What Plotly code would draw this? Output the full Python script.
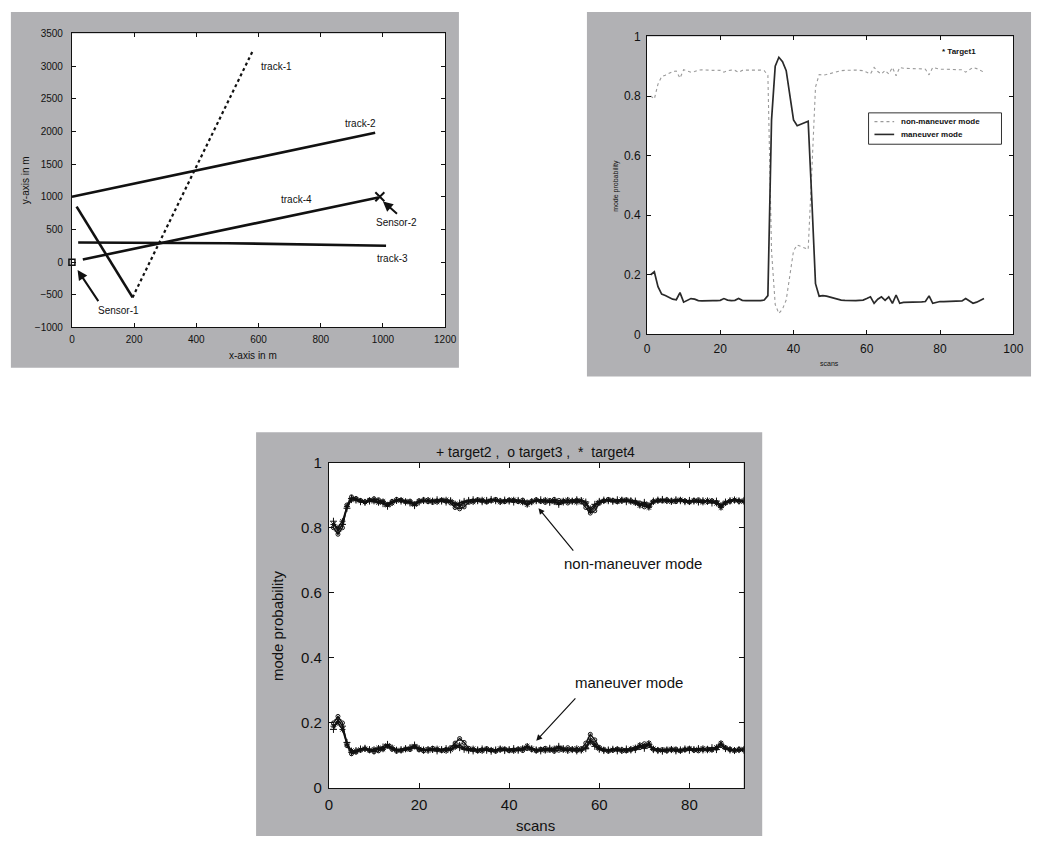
import plotly.graph_objects as go

W, H = 1045, 844
FONT = "Liberation Sans, Arial, sans-serif"

# ---------------- data: top-left (tracks) ----------------
track1_desc_x = [15, 195]
track1_desc_y = [850, -540]
track1_asc_x = [195, 580]
track1_asc_y = [-540, 3220]
track2_x = [0, 975]
track2_y = [1000, 1980]
track3_x = [20, 500, 1010]
track3_y = [300, 290, 250]
track4_x = [35, 985]
track4_y = [40, 990]
sensor1_xy = (0, 0)
sensor2_xy = (990, 1000)
tl_xticks = [0, 200, 400, 600, 800, 1000, 1200]
tl_yticks = [-1000, -500, 0, 500, 1000, 1500, 2000, 2500, 3000, 3500]

# ---------------- data: top-right (target 1) ----------------
scans = list(range(1, 93))
t1_man = [0.20, 0.21, 0.16, 0.135, 0.13, 0.125, 0.118, 0.116, 0.14, 0.108,
          0.115, 0.12, 0.118, 0.113, 0.112, 0.113, 0.113, 0.113, 0.113, 0.114,
          0.12, 0.115, 0.113, 0.114, 0.12, 0.114, 0.113, 0.113, 0.112, 0.113,
          0.113, 0.115, 0.13, 0.72, 0.90, 0.93, 0.915, 0.885, 0.80, 0.72,
          0.70, 0.705, 0.71, 0.715, 0.45, 0.17, 0.128, 0.13, 0.128, 0.125,
          0.12, 0.118, 0.115, 0.114, 0.113, 0.113, 0.113, 0.114, 0.115, 0.12,
          0.126, 0.104, 0.118, 0.126, 0.114, 0.126, 0.104, 0.132, 0.104, 0.107,
          0.107, 0.107, 0.108, 0.108, 0.109, 0.11, 0.129, 0.104, 0.108, 0.11,
          0.11, 0.11, 0.11, 0.11, 0.11, 0.112, 0.12, 0.112, 0.104, 0.108,
          0.115, 0.12]
t1_nonman = [0.80, 0.79, 0.84, 0.865, 0.87, 0.875, 0.882, 0.884, 0.86, 0.888,
             0.885, 0.88, 0.882, 0.887, 0.888, 0.887, 0.887, 0.886, 0.887, 0.886,
             0.88, 0.885, 0.887, 0.886, 0.88, 0.886, 0.887, 0.887, 0.888, 0.887,
             0.887, 0.885, 0.87, 0.28, 0.10, 0.07, 0.085, 0.115, 0.20, 0.28,
             0.30, 0.295, 0.29, 0.285, 0.55, 0.83, 0.872, 0.87, 0.872, 0.875,
             0.88, 0.882, 0.885, 0.886, 0.887, 0.887, 0.887, 0.886, 0.885, 0.88,
             0.874, 0.896, 0.882, 0.874, 0.886, 0.874, 0.896, 0.868, 0.896, 0.893,
             0.893, 0.893, 0.892, 0.892, 0.891, 0.89, 0.871, 0.896, 0.892, 0.89,
             0.89, 0.89, 0.89, 0.89, 0.89, 0.888, 0.88, 0.888, 0.896, 0.892,
             0.885, 0.88]

# ---------------- data: bottom (targets 2,3,4) ----------------
t2_nonman = [0.82, 0.79, 0.81, 0.86, 0.89, 0.885, 0.88, 0.878, 0.882, 0.886,
             0.88, 0.874, 0.866, 0.878, 0.884, 0.882, 0.879, 0.876, 0.868, 0.879,
             0.884, 0.883, 0.881, 0.886, 0.882, 0.879, 0.883, 0.87, 0.876, 0.881,
             0.884, 0.886, 0.883, 0.88, 0.884, 0.887, 0.883, 0.881, 0.885, 0.882,
             0.879, 0.884, 0.881, 0.874, 0.88, 0.883, 0.886, 0.882, 0.878, 0.884,
             0.872, 0.879, 0.884, 0.882, 0.886, 0.883, 0.879, 0.858, 0.872, 0.881,
             0.885, 0.883, 0.881, 0.886, 0.884, 0.88, 0.883, 0.882, 0.872, 0.878,
             0.866, 0.882, 0.885, 0.887, 0.884, 0.882, 0.886, 0.883, 0.88, 0.884,
             0.882, 0.879, 0.883, 0.881, 0.876, 0.882, 0.866, 0.879, 0.883, 0.885,
             0.882, 0.884]
t2_man = [0.18, 0.21, 0.19, 0.14, 0.11, 0.115, 0.12, 0.122, 0.118, 0.114,
          0.12, 0.126, 0.134, 0.122, 0.116, 0.118, 0.121, 0.124, 0.132, 0.121,
          0.116, 0.117, 0.119, 0.114, 0.118, 0.121, 0.117, 0.13, 0.124, 0.119,
          0.116, 0.114, 0.117, 0.12, 0.116, 0.113, 0.117, 0.119, 0.115, 0.118,
          0.121, 0.116, 0.119, 0.126, 0.12, 0.117, 0.114, 0.118, 0.122, 0.116,
          0.128, 0.121, 0.116, 0.118, 0.114, 0.117, 0.121, 0.142, 0.128, 0.119,
          0.115, 0.117, 0.119, 0.114, 0.116, 0.12, 0.117, 0.118, 0.128, 0.122,
          0.134, 0.118, 0.115, 0.113, 0.116, 0.118, 0.114, 0.117, 0.12, 0.116,
          0.118, 0.121, 0.117, 0.119, 0.124, 0.118, 0.134, 0.121, 0.117, 0.115,
          0.118, 0.116]
t3_nonman = [0.80, 0.78, 0.80, 0.87, 0.895, 0.89, 0.884, 0.88, 0.885, 0.889,
             0.886, 0.88, 0.872, 0.881, 0.887, 0.884, 0.88, 0.882, 0.874, 0.883,
             0.886, 0.88, 0.878, 0.883, 0.885, 0.881, 0.876, 0.862, 0.858, 0.864,
             0.878, 0.883, 0.886, 0.882, 0.879, 0.884, 0.887, 0.883, 0.88, 0.885,
             0.883, 0.88, 0.885, 0.879, 0.882, 0.886, 0.881, 0.878, 0.884, 0.887,
             0.884, 0.88, 0.876, 0.882, 0.885, 0.879, 0.862, 0.845, 0.852, 0.875,
             0.883, 0.887, 0.884, 0.88, 0.882, 0.886, 0.883, 0.879, 0.876, 0.864,
             0.87, 0.881, 0.884, 0.882, 0.886, 0.883, 0.88, 0.885, 0.882, 0.879,
             0.884, 0.886, 0.882, 0.88, 0.883, 0.878, 0.87, 0.876, 0.882, 0.884,
             0.881, 0.883]
t3_man = [0.20, 0.22, 0.20, 0.13, 0.105, 0.11, 0.116, 0.12, 0.115, 0.111,
          0.114, 0.12, 0.128, 0.119, 0.113, 0.116, 0.12, 0.118, 0.126, 0.117,
          0.114, 0.12, 0.122, 0.117, 0.115, 0.119, 0.124, 0.138, 0.152, 0.14,
          0.122, 0.117, 0.114, 0.118, 0.121, 0.116, 0.113, 0.117, 0.12, 0.115,
          0.117, 0.12, 0.115, 0.121, 0.118, 0.114, 0.119, 0.122, 0.116, 0.113,
          0.116, 0.12, 0.124, 0.118, 0.115, 0.121, 0.138, 0.165, 0.148, 0.125,
          0.117, 0.113, 0.116, 0.12, 0.118, 0.114, 0.117, 0.121, 0.124, 0.136,
          0.13, 0.119, 0.116, 0.118, 0.114, 0.117, 0.12, 0.115, 0.118, 0.121,
          0.116, 0.114, 0.118, 0.12, 0.117, 0.122, 0.13, 0.124, 0.118, 0.116,
          0.119, 0.117]
t4_nonman = [0.81, 0.80, 0.82, 0.865, 0.885, 0.887, 0.882, 0.879, 0.884, 0.881,
             0.877, 0.881, 0.869, 0.876, 0.883, 0.885, 0.881, 0.878, 0.871, 0.88,
             0.882, 0.885, 0.883, 0.879, 0.884, 0.886, 0.882, 0.874, 0.868, 0.877,
             0.882, 0.879, 0.884, 0.886, 0.881, 0.883, 0.885, 0.879, 0.882, 0.884,
             0.886, 0.882, 0.878, 0.871, 0.879, 0.884, 0.882, 0.885, 0.881, 0.879,
             0.876, 0.883, 0.885, 0.881, 0.878, 0.884, 0.875, 0.852, 0.866, 0.879,
             0.882, 0.885, 0.883, 0.881, 0.886, 0.884, 0.88, 0.876, 0.868, 0.874,
             0.862, 0.879, 0.883, 0.885, 0.882, 0.88, 0.884, 0.886, 0.882, 0.879,
             0.883, 0.881, 0.878, 0.884, 0.882, 0.875, 0.862, 0.877, 0.881, 0.886,
             0.883, 0.88]
t4_man = [0.19, 0.20, 0.18, 0.135, 0.115, 0.113, 0.118, 0.121, 0.116, 0.119,
          0.123, 0.119, 0.131, 0.124, 0.117, 0.115, 0.119, 0.122, 0.129, 0.12,
          0.118, 0.115, 0.117, 0.121, 0.116, 0.114, 0.118, 0.126, 0.132, 0.123,
          0.118, 0.121, 0.116, 0.114, 0.119, 0.117, 0.115, 0.121, 0.118, 0.116,
          0.114, 0.118, 0.122, 0.129, 0.121, 0.116, 0.118, 0.115, 0.119, 0.121,
          0.124, 0.117, 0.115, 0.119, 0.122, 0.116, 0.125, 0.148, 0.134, 0.121,
          0.118, 0.115, 0.117, 0.119, 0.114, 0.116, 0.12, 0.124, 0.132, 0.126,
          0.138, 0.121, 0.117, 0.115, 0.118, 0.12, 0.116, 0.114, 0.118, 0.121,
          0.117, 0.119, 0.122, 0.116, 0.118, 0.125, 0.138, 0.123, 0.119, 0.114,
          0.117, 0.12]
prob_ticks = [0, 0.2, 0.4, 0.6, 0.8, 1]
tr_xticks = [0, 20, 40, 60, 80, 100]
bt_xticks = [0, 20, 40, 60, 80]
legend_labels = ["non-maneuver mode", "maneuver mode"]

# ---------------- layout helpers ----------------
def px(x):
    return x / W

def py(y):
    return 1 - y / H

GRAY = "#b1b1b4"
BLACK = "#111111"
NONMAN_COLOR = "#9a9a9a"
MAN_COLOR = "#2a2a2a"

fig = go.Figure()

# --- top-left traces
fig.add_trace(go.Scatter(x=track1_desc_x, y=track1_desc_y, mode="lines",
                         line=dict(color=BLACK, width=2.6), showlegend=False,
                         xaxis="x", yaxis="y"))
fig.add_trace(go.Scatter(x=track1_asc_x, y=track1_asc_y, mode="lines",
                         line=dict(color=BLACK, width=2.2, dash="dot"), showlegend=False,
                         xaxis="x", yaxis="y"))
fig.add_trace(go.Scatter(x=track2_x, y=track2_y, mode="lines",
                         line=dict(color=BLACK, width=2.6), showlegend=False,
                         xaxis="x", yaxis="y"))
fig.add_trace(go.Scatter(x=track3_x, y=track3_y, mode="lines",
                         line=dict(color=BLACK, width=2.6), showlegend=False,
                         xaxis="x", yaxis="y"))
fig.add_trace(go.Scatter(x=track4_x, y=track4_y, mode="lines",
                         line=dict(color=BLACK, width=2.6), showlegend=False,
                         xaxis="x", yaxis="y"))
fig.add_trace(go.Scatter(x=[sensor1_xy[0]], y=[sensor1_xy[1]], mode="markers",
                         marker=dict(symbol="square-open", size=6, color=BLACK, line=dict(width=1.5)),
                         showlegend=False, cliponaxis=False, xaxis="x", yaxis="y"))
fig.add_trace(go.Scatter(x=[sensor2_xy[0]], y=[sensor2_xy[1]], mode="markers",
                         marker=dict(symbol="x-thin-open", size=9, color=BLACK, line=dict(width=2, color=BLACK)),
                         showlegend=False, xaxis="x", yaxis="y"))

# --- top-right traces
fig.add_trace(go.Scatter(x=scans, y=t1_nonman, mode="lines", name=legend_labels[0],
                         line=dict(color=NONMAN_COLOR, width=1.1, dash="dot"),
                         showlegend=False, xaxis="x2", yaxis="y2"))
fig.add_trace(go.Scatter(x=scans, y=t1_man, mode="lines", name=legend_labels[1],
                         line=dict(color=MAN_COLOR, width=1.7),
                         showlegend=False, xaxis="x2", yaxis="y2"))

# --- bottom traces
for ys, sym, sz in [(t2_nonman, "cross-thin-open", 5), (t3_nonman, "circle-open", 4),
                    (t4_nonman, "asterisk-open", 5), (t2_man, "cross-thin-open", 5),
                    (t3_man, "circle-open", 4), (t4_man, "asterisk-open", 5)]:
    fig.add_trace(go.Scatter(x=scans, y=ys, mode="lines+markers",
                             line=dict(color=BLACK, width=1.4),
                             marker=dict(symbol=sym, size=sz, color=BLACK, line=dict(width=1, color=BLACK)),
                             showlegend=False, xaxis="x3", yaxis="y3"))

# ---------------- axes ----------------
def axis(domain, rng, tickvals, size, anchor, ticklen=4, standoff=3):
    return dict(domain=domain, range=rng, tickvals=tickvals, anchor=anchor,
                showgrid=False, zeroline=False, showline=True, linecolor=BLACK,
                linewidth=1, mirror="ticks", ticks="inside", ticklen=ticklen,
                tickcolor=BLACK, ticklabelstandoff=standoff,
                tickfont=dict(family=FONT, size=size, color=BLACK))

fig.update_layout(
    width=W, height=H,
    margin=dict(l=0, r=0, t=0, b=0),
    paper_bgcolor="white", plot_bgcolor="white",
    font=dict(family=FONT, color=BLACK),
    showlegend=False,
    xaxis=axis([px(69), px(448)], [0, 1200], tl_xticks, 10, "y"),
    yaxis=axis([py(325), py(25)], [-1000, 3500], tl_yticks, 10, "x", 4, 6),
    xaxis2=axis([px(653), px(1025)], [0, 100], tr_xticks, 12, "y2"),
    yaxis2=axis([py(332), py(28)], [0, 1], prob_ticks, 12, "x2"),
    xaxis3=axis([px(330), px(751)], [0, 92], bt_xticks, 15, "y3", 5),
    yaxis3=axis([py(795), py(463)], [0, 1], prob_ticks, 15, "x3", 5),
)

# panel backgrounds
shapes = []
for (x0, y0, x1, y1) in [(7, 3, 462, 366), (592, 3, 1043, 375), (256, 432, 770, 844)]:
    shapes.append(dict(type="rect", xref="paper", yref="paper", x0=px(x0), x1=px(x1),
                       y0=py(y1), y1=py(y0), fillcolor=GRAY, line=dict(width=0), layer="below"))
for (x0, y0, x1, y1) in [(69, 25, 448, 325), (653, 28, 1025, 332), (330, 463, 751, 795)]:
    shapes.append(dict(type="rect", xref="paper", yref="paper", x0=px(x0), x1=px(x1),
                       y0=py(y1), y1=py(y0), fillcolor="white", line=dict(width=0), layer="below"))

# legend box of the top-right panel (drawn by hand to match its compact size)
LEG = (878, 106, 1013, 138)
shapes.append(dict(type="rect", xref="paper", yref="paper", x0=px(LEG[0]), x1=px(LEG[2]),
                   y0=py(LEG[3]), y1=py(LEG[1]), fillcolor="white",
                   line=dict(width=1, color="#333333"), layer="above"))
shapes.append(dict(type="line", xref="paper", yref="paper", x0=px(884), x1=px(904),
                   y0=py(115), y1=py(115), line=dict(width=1.2, color=NONMAN_COLOR, dash="dot"),
                   layer="above"))
shapes.append(dict(type="line", xref="paper", yref="paper", x0=px(884), x1=px(904),
                   y0=py(128), y1=py(128), line=dict(width=1.6, color=MAN_COLOR),
                   layer="above"))
fig.update_layout(shapes=shapes)

ann = []
def ptext(x, y, text, size, angle=0, xanchor="center", bold=False):
    ann.append(dict(xref="paper", yref="paper", x=px(x), y=py(y),
                    text=("<b>%s</b>" % text) if bold else text, showarrow=False,
                    textangle=angle, xanchor=xanchor, yanchor="middle",
                    font=dict(family=FONT, size=size, color=BLACK)))

def dtext(xr, yr, x, y, text, size, xanchor="left"):
    ann.append(dict(xref=xr, yref=yr, x=x, y=y, text=text, showarrow=False,
                    xanchor=xanchor, yanchor="middle",
                    font=dict(family=FONT, size=size, color=BLACK)))

def arrow(xr, yr, hx, hy, tx, ty, width=1.5):
    ann.append(dict(xref=xr, yref=yr, axref=xr, ayref=yr, x=hx, y=hy, ax=tx, ay=ty,
                    text="", showarrow=True, arrowhead=2, arrowsize=1, arrowwidth=width,
                    arrowcolor=BLACK))

# top-left texts
ptext(253, 354, "x-axis in m", 10)
ptext(22, 175, "y-axis in m", 10, -90)
dtext("x", "y", 600, 3000, "track-1", 10)
dtext("x", "y", 870, 2120, "track-2", 10)
dtext("x", "y", 665, 960, "track-4", 10)
dtext("x", "y", 975, 60, "track-3", 10)
dtext("x", "y", 1045, 600, "Sensor-2", 10, "center")
dtext("x", "y", 150, -740, "Sensor-1", 10, "center")
arrow("x", "y", 18, -120, 88, -620, 2)
arrow("x", "y", 1000, 930, 1050, 720, 2)

# top-right texts
ptext(838, 362, "scans", 7)
ptext(622, 180, "mode probability", 7, -90)
ptext(951, 43, "* Target1", 8, xanchor="left", bold=True)
ptext(909, 115, legend_labels[0], 8, xanchor="left", bold=True)
ptext(909, 128, legend_labels[1], 8, xanchor="left", bold=True)

# bottom texts
ptext(540, 452, "+ target2 ,  o target3 ,  *  target4", 14)
ptext(540, 833, "scans", 15)
ptext(278, 629, "mode probability", 15, -90)
dtext("x3", "y3", 67.5, 0.69, "non-maneuver mode", 15, "center")
dtext("x3", "y3", 66.5, 0.325, "maneuver mode", 15, "center")
arrow("x3", "y3", 46.5, 0.86, 54.5, 0.725, 1.2)
arrow("x3", "y3", 46, 0.145, 55, 0.28, 1.2)

fig.update_layout(annotations=ann)

fig.write_html("out.html")
